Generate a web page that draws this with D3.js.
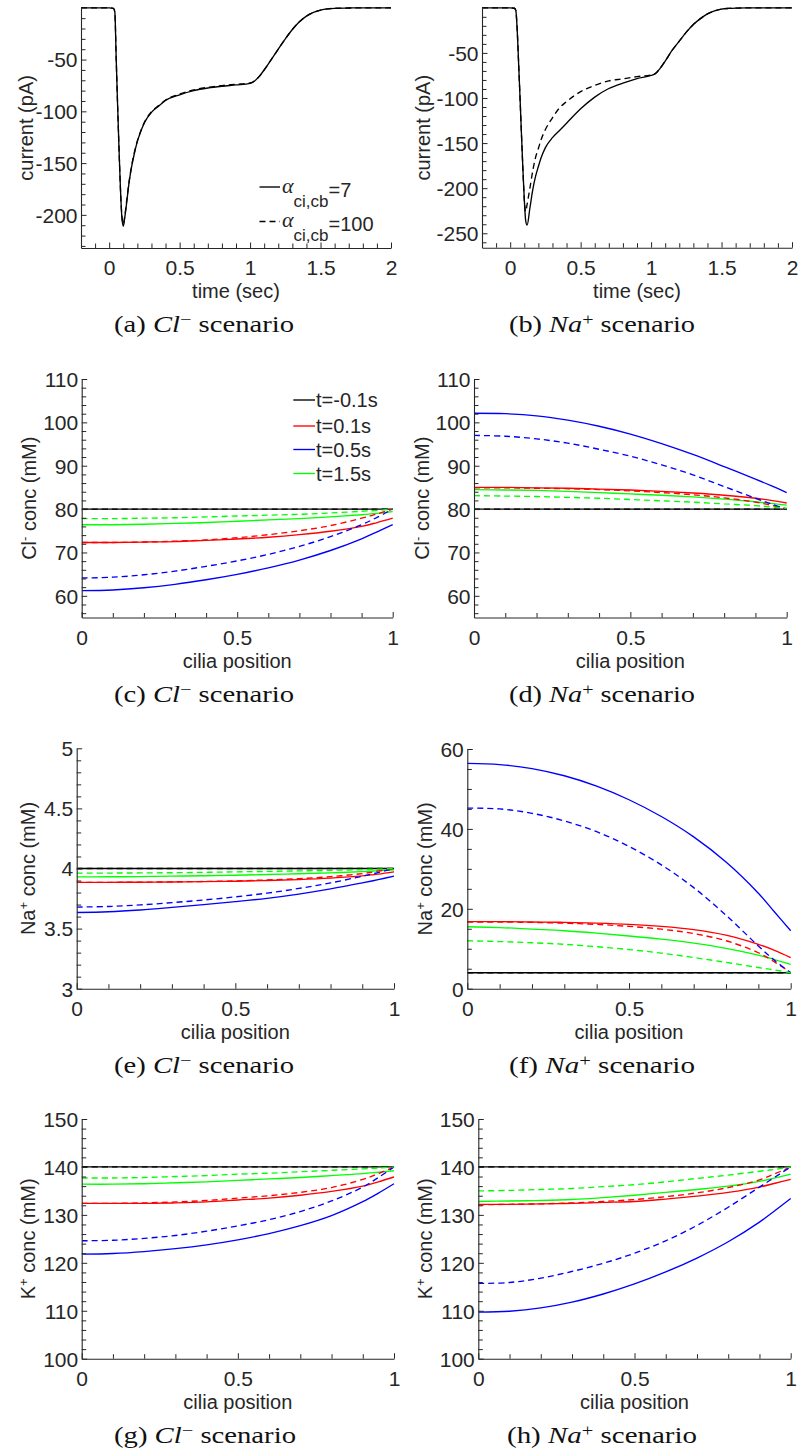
<!DOCTYPE html>
<html><head><meta charset="utf-8">
<script src="https://cdn.jsdelivr.net/npm/d3@7"></script>
<style>body{margin:0;background:#fff} svg{display:block}</style>
</head><body>
<svg id="fig" width="800" height="1455"></svg>
<script>
// ---------- DATA ----------
// time axis for current traces (sec)
const timeS = [-0.2,0.0,0.03,0.04,0.05,0.06,0.07,0.08,0.09,0.10,0.11,0.12,0.14,0.16,0.18,0.20,0.22,0.25,0.30,0.35,0.40,0.50,0.60,0.70,0.80,0.90,1.00,1.03,1.06,1.10,1.15,1.20,1.25,1.30,1.35,1.40,1.45,1.50,1.55,1.60,1.70,1.80,2.00];
// (a) Cl- scenario current (pA)
const curClA7   = [0,0,-0.5,-4,-50,-95,-137,-175,-202,-211,-203,-193,-170,-153,-140,-129,-121,-111,-101,-95,-89.5,-84,-80,-77.5,-75.8,-74.5,-73,-71,-67,-60,-50,-40,-30,-21,-13.5,-8,-4.5,-2.2,-1.0,-0.5,-0.2,0,0];
const curClA100 = [0,0,-0.5,-4,-50,-95,-137,-175,-201,-209,-202,-191,-169,-152,-139,-128.5,-120.5,-110.5,-100.5,-94.5,-89,-83.3,-79.3,-76.8,-75.1,-73.9,-72.6,-70.8,-67,-60,-50,-40,-30,-21,-13.5,-8,-4.5,-2.2,-1.0,-0.5,-0.2,0,0];
// (b) Na+ scenario current (pA)
const curNaA7   = [0,0,-0.5,-3,-25,-62,-100,-140,-178,-212,-236,-241,-222,-202,-187,-176,-166,-155,-144,-136,-128,-112,-99,-89.5,-83.5,-78.5,-75,-73,-68,-59,-47,-37,-27,-18.5,-12,-6.8,-3.5,-1.5,-0.7,-0.3,-0.1,0,0];
const curNaA100 = [0,0,-0.5,-3,-25,-62,-100,-140,-178,-212,-226,-218,-200,-181,-166,-156,-146,-135,-122,-111,-104,-93,-86,-81,-78.8,-76.3,-74.5,-73,-68,-59,-47,-37,-27,-18.5,-12,-6.8,-3.5,-1.5,-0.7,-0.3,-0.1,0,0];

// cilia position
const ciliaPos = [0,0.1,0.2,0.3,0.4,0.5,0.6,0.7,0.8,0.9,0.95,1];
const timeLabels = ["t=-0.1s","t=0.1s","t=0.5s","t=1.5s"];

// (c) Cl- conc, Cl- scenario (mM)  -- solid: alpha=7, dashed: alpha=100
const clCl_m01 = [80,80,80,80,80,80,80,80,80,80,80,80];
const clCl_01  = [72.3,72.3,72.4,72.5,72.8,73.1,73.5,74.1,74.9,76.0,76.9,77.9];
const clCl_05  = [61.2,61.35,61.85,62.65,63.7,64.95,66.45,68.25,70.45,73.15,74.75,76.4];
const clCl_15  = [76.4,76.4,76.5,76.7,76.9,77.2,77.5,77.8,78.2,78.7,79.0,79.4];
const clCl_m01d = [80,80,80,80,80,80,80,80,80,80,80,80];
const clCl_01d  = [72.3,72.3,72.4,72.6,72.9,73.4,74.1,75.0,76.2,77.9,78.9,80.0];
const clCl_05d  = [64.1,64.3,64.85,65.7,66.8,68.05,69.55,71.4,73.65,76.4,78.1,80.0];
const clCl_15d  = [77.8,77.8,77.9,78.0,78.2,78.4,78.6,78.8,79.1,79.5,79.7,80.0];

// (d) Cl- conc, Na+ scenario (mM)
const clNa_m01 = [80,80,80,80,80,80,80,80,80,80,80,80];
const clNa_01  = [85.0,85.0,84.9,84.8,84.6,84.4,84.1,83.7,83.2,82.5,82.0,81.4];
const clNa_05  = [102.1,102.0,101.5,100.5,99.1,97.3,95.1,92.6,89.8,86.9,85.4,83.8];
const clNa_15  = [84.5,84.4,84.3,84.1,83.8,83.5,83.2,82.8,82.3,81.7,81.3,80.9];
const clNa_m01d = [80,80,80,80,80,80,80,80,80,80,80,80];
const clNa_01d  = [84.9,84.9,84.8,84.7,84.5,84.2,83.8,83.3,82.6,81.6,80.9,80.0];
const clNa_05d  = [97.0,96.8,96.2,95.2,93.8,92.2,90.2,87.9,85.2,82.5,81.2,80.0];
const clNa_15d  = [83.1,83.0,82.9,82.7,82.5,82.2,81.9,81.6,81.2,80.8,80.5,80.2];

// (e) Na+ conc, Cl- scenario (mM)
const naCl_m01 = [4,4,4,4,4,4,4,4,4,4,4,4];
const naCl_01  = [3.885,3.885,3.886,3.888,3.891,3.894,3.900,3.908,3.920,3.938,3.953,3.972];
const naCl_05  = [3.634,3.640,3.655,3.676,3.699,3.724,3.752,3.787,3.830,3.880,3.907,3.936];
const naCl_15  = [3.930,3.931,3.933,3.936,3.940,3.944,3.950,3.956,3.964,3.974,3.982,3.990];
const naCl_m01d = [4,4,4,4,4,4,4,4,4,4,4,4];
const naCl_01d  = [3.885,3.885,3.886,3.889,3.892,3.897,3.905,3.915,3.932,3.958,3.978,4.0];
const naCl_05d  = [3.679,3.684,3.697,3.716,3.738,3.764,3.795,3.834,3.880,3.936,3.966,4.0];
const naCl_15d  = [3.961,3.962,3.963,3.965,3.968,3.972,3.976,3.980,3.985,3.991,3.995,4.0];

// (f) Na+ conc, Na+ scenario (mM)
const naNa_m01 = [4,4,4,4,4,4,4,4,4,4,4,4];
const naNa_01  = [16.8,16.8,16.7,16.6,16.4,16.1,15.6,14.8,13.4,11.1,9.6,7.8];
const naNa_05  = [56.4,56.1,55.1,53.3,50.7,47.3,43.1,38.0,31.7,23.9,19.2,14.5];
const naNa_15  = [15.5,15.3,14.9,14.5,13.9,13.2,12.4,11.4,10.1,8.4,7.3,6.1];
const naNa_m01d = [4,4,4,4,4,4,4,4,4,4,4,4];
const naNa_01d  = [16.7,16.7,16.6,16.4,16.1,15.6,14.9,13.8,12.0,9.0,6.7,4.0];
const naNa_05d  = [45.2,45.0,43.9,42.0,39.3,35.6,31.0,25.3,18.4,10.7,7.1,4.0];
const naNa_15d  = [12.0,11.8,11.5,11.1,10.5,9.8,8.9,7.8,6.6,5.3,4.7,4.0];

// (g) K+ conc, Cl- scenario (mM)
const kCl_m01 = [140,140,140,140,140,140,140,140,140,140,140,140];
const kCl_01  = [132.4,132.4,132.4,132.5,132.7,133.1,133.5,134.1,134.9,136.0,136.9,137.9];
const kCl_05  = [121.8,121.95,122.35,122.95,123.75,124.8,126.1,127.75,129.85,132.75,134.55,136.5];
const kCl_15  = [136.4,136.4,136.5,136.7,136.9,137.2,137.5,137.8,138.2,138.6,138.9,139.2];
const kCl_m01d = [140,140,140,140,140,140,140,140,140,140,140,140];
const kCl_01d  = [132.4,132.4,132.5,132.7,133.0,133.5,134.0,134.7,135.7,137.4,138.6,140.0];
const kCl_05d  = [124.6,124.7,125.1,125.7,126.6,127.7,129.0,130.7,132.9,135.8,137.8,140.0];
const kCl_15d  = [137.7,137.7,137.8,138.0,138.2,138.5,138.7,139.0,139.3,139.6,139.8,140.0];

// (h) K+ conc, Na+ scenario (mM)
const kNa_m01 = [140,140,140,140,140,140,140,140,140,140,140,140];
const kNa_01  = [132.2,132.2,132.3,132.4,132.6,132.8,133.3,133.9,134.7,135.8,136.6,137.4];
const kNa_05  = [109.7,109.9,110.6,111.8,113.5,115.6,118.1,121.0,124.4,128.5,130.9,133.4];
const kNa_15  = [132.8,132.9,133.0,133.2,133.6,134.1,134.7,135.3,136.0,137.0,137.7,138.5];
const kNa_m01d = [140,140,140,140,140,140,140,140,140,140,140,140];
const kNa_01d  = [132.1,132.2,132.3,132.5,132.8,133.2,133.8,134.6,135.7,137.3,138.6,140.0];
const kNa_05d  = [115.7,115.9,116.8,118.2,119.9,122.0,124.6,127.8,131.6,135.8,137.9,140.0];
const kNa_15d  = [135.0,135.1,135.3,135.5,135.9,136.3,136.9,137.6,138.3,139.1,139.5,140.0];

// tick values
const tTicks = [0,0.5,1,1.5,2];
const posTicks = [0,0.5,1];
const curClTicks = [-200,-150,-100,-50];
const curNaTicks = [-250,-200,-150,-100,-50];
const clTicks = [60,70,80,90,100,110];
const naClTicks = [3,3.5,4,4.5,5];
const naNaTicks = [0,20,40,60];
const kTicks = [100,110,120,130,140,150];

// ---------- DRAWING ----------
const svg = d3.select("#fig");
const AX = "#262626";
const SANS = "'Liberation Sans', Arial, Helvetica, sans-serif";
const SERIF = "'Liberation Serif', 'Times New Roman', serif";
const COLORS = ["#000000","#ff0000","#0000ff","#00ff00"];
const fmt = d => String(d);
const range = (a, b, s) => d3.range(Math.round((b - a) / s) + 1).map(i => +(a + i * s).toFixed(6));

function styleAxis(sel) {
  sel.select(".domain").attr("stroke", AX).attr("stroke-width", 1.1);
  sel.selectAll(".tick line").attr("stroke", AX).attr("stroke-width", 1);
  sel.selectAll(".tick text").attr("fill", AX).attr("font-size", 21).attr("font-family", SANS);
}

function ylabel(g, x, y, parts) {
  const t = g.append("text").attr("transform", `translate(${x},${y}) rotate(-90)`)
    .attr("text-anchor", "middle").attr("font-family", SANS).attr("font-size", 20).attr("fill", AX)
    .attr("dy", "0.35em");
  parts.forEach(p => {
    const ts = t.append("tspan").text(p.s);
    if (p.sup) ts.attr("font-size", 13).attr("baseline-shift", "55%");
  });
}

function caption(g, cx, y, letter, ion, sign, width) {
  const t = g.append("text").attr("x", cx).attr("y", y).attr("text-anchor", "middle")
    .attr("font-family", SERIF).attr("font-size", 24).attr("fill", "#111")
    .attr("textLength", width).attr("lengthAdjust", "spacingAndGlyphs");
  t.append("tspan").text(`(${letter}) `);
  t.append("tspan").attr("font-style", "italic").text(ion);
  t.append("tspan").attr("font-size", 17).attr("baseline-shift", "42%").text(sign);
  t.append("tspan").text(" scenario");
}

function panel(cfg) {
  const g = svg.append("g");
  const x = d3.scaleLinear().domain(cfg.xd).range([cfg.l, cfg.r]);
  const y = d3.scaleLinear().domain(cfg.yd).range([cfg.b, cfg.t]);
  const line = d3.line().x(d => x(d[0])).y(d => y(d[1])).curve(cfg.curve || d3.curveCatmullRom.alpha(0.5));
  const cid = "clip" + cfg.id;
  g.append("clipPath").attr("id", cid).append("rect")
    .attr("x", cfg.l).attr("y", cfg.t - 2).attr("width", cfg.r - cfg.l + 2).attr("height", cfg.b - cfg.t + 2);
  const plot = g.append("g").attr("clip-path", `url(#${cid})`);
  cfg.series.forEach(s => {
    plot.append("path").datum(cfg.xs.map((v, i) => [v, s.ys[i]]))
      .attr("d", line).attr("fill", "none").attr("stroke", s.color)
      .attr("stroke-width", 1.35).attr("stroke-dasharray", s.dash ? "6,4" : null);
  });
  // minor ticks
  const mx = g.append("g").attr("transform", `translate(0,${cfg.b})`)
    .call(d3.axisBottom(x).tickValues(cfg.xm).tickSizeInner(-4.5).tickSizeOuter(0).tickFormat(""));
  mx.select(".domain").remove(); mx.selectAll("line").attr("stroke", AX);
  const my = g.append("g").attr("transform", `translate(${cfg.l},0)`)
    .call(d3.axisLeft(y).tickValues(cfg.ym).tickSizeInner(-4.5).tickSizeOuter(0).tickFormat(""));
  my.select(".domain").remove(); my.selectAll("line").attr("stroke", AX);
  // major axes
  const xa = g.append("g").attr("transform", `translate(0,${cfg.b})`)
    .call(d3.axisBottom(x).tickValues(cfg.xt).tickSizeInner(-5.5).tickSizeOuter(0).tickPadding(12.5).tickFormat(fmt));
  styleAxis(xa);
  const ya = g.append("g").attr("transform", `translate(${cfg.l},0)`)
    .call(d3.axisLeft(y).tickValues(cfg.yt).tickSizeInner(-5.5).tickSizeOuter(0).tickPadding(3.5).tickFormat(fmt));
  styleAxis(ya);
  ya.selectAll(".tick text").attr("dy", "0.35em");
  // labels
  g.append("text").attr("x", (cfg.l + cfg.r) / 2).attr("y", cfg.b + 50).attr("text-anchor", "middle")
    .attr("font-family", SANS).attr("font-size", 20).attr("fill", AX).text(cfg.xlab);
  ylabel(g, cfg.ylx, (cfg.t + cfg.b) / 2, cfg.ylab);
  caption(g, cfg.capx, cfg.b + 84, cfg.letter, cfg.ion, cfg.sign, cfg.capw);
  return { g, x, y };
}

function concSeries(s, d) {
  const out = [];
  s.forEach((ys, i) => out.push({ ys, color: COLORS[i], dash: false }));
  d.forEach((ys, i) => out.push({ ys, color: COLORS[i], dash: true }));
  return out;
}

const tMinor = range(-0.1, 1.9, 0.1).filter(v => !tTicks.includes(v));
const pMinor = range(0.1, 0.9, 0.1).filter(v => !posTicks.includes(v));

// (a)
const pa = panel({
  id: "a", l: 81, r: 391, t: 7.8, b: 248, xd: [-0.2, 2], yd: [-232, 0], curve: d3.curveMonotoneX,
  xs: timeS, xt: tTicks, xm: tMinor, yt: curClTicks, ym: range(-230, -10, 10).filter(v => !curClTicks.includes(v)),
  series: [{ ys: curClA7, color: "#000", dash: false }, { ys: curClA100, color: "#000", dash: true }],
  xlab: "time (sec)", ylab: [{ s: "current (pA)" }], ylx: 26, capx: 204, capw: 180, letter: "a", ion: "Cl", sign: "\u2212"
});
// legend (a)
[{ y: 187, dash: false, v: "7" }, { y: 221.5, dash: true, v: "100" }].forEach(r => {
  pa.g.append("line").attr("x1", 259.5).attr("x2", 280).attr("y1", r.y).attr("y2", r.y)
    .attr("stroke", "#000").attr("stroke-width", 1.35).attr("stroke-dasharray", r.dash ? "6,4" : null);
  const t = pa.g.append("text").attr("x", 282).attr("y", r.y + 9.5).attr("font-family", SANS)
    .attr("font-size", 20).attr("fill", AX);
  t.append("tspan").attr("font-family", SERIF).attr("font-style", "italic").attr("font-size", 22)
    .attr("dy", -4).text("\u03b1");
  t.append("tspan").attr("font-size", 17).attr("dy", 14).text("ci,cb");
  t.append("tspan").attr("dy", -10).text("=" + r.v);
});

// (b)
panel({
  id: "b", l: 482, r: 792, t: 7.8, b: 247.7, xd: [-0.2, 2], yd: [-266, 0], curve: d3.curveMonotoneX,
  xs: timeS, xt: tTicks, xm: tMinor, yt: curNaTicks, ym: range(-260, -10, 10).filter(v => !curNaTicks.includes(v)),
  series: [{ ys: curNaA7, color: "#000", dash: false }, { ys: curNaA100, color: "#000", dash: true }],
  xlab: "time (sec)", ylab: [{ s: "current (pA)" }], ylx: 423, capx: 602, capw: 186, letter: "b", ion: "Na", sign: "+"
});

// (c)
const pc = panel({
  id: "c", l: 81.7, r: 392.7, t: 379, b: 617.5, xd: [0, 1], yd: [55, 110],
  xs: ciliaPos, xt: posTicks, xm: pMinor, yt: clTicks, ym: range(56, 108, 2).filter(v => !clTicks.includes(v)),
  series: concSeries([clCl_m01, clCl_01, clCl_05, clCl_15], [clCl_m01d, clCl_01d, clCl_05d, clCl_15d]),
  xlab: "cilia position", ylab: [{ s: "Cl" }, { s: "-", sup: true }, { s: " conc (mM)" }], ylx: 29, capx: 204, capw: 180,
  letter: "c", ion: "Cl", sign: "\u2212"
});
// legend (c)
timeLabels.forEach((lab, i) => {
  const yy = [400, 426, 449.5, 473.5][i];
  pc.g.append("line").attr("x1", 293.3).attr("x2", 315).attr("y1", yy).attr("y2", yy)
    .attr("stroke", COLORS[i]).attr("stroke-width", 1.35);
  pc.g.append("text").attr("x", 316).attr("y", yy + 7).attr("font-family", SANS).attr("font-size", 20)
    .attr("fill", AX).text(lab);
});

// (d)
panel({
  id: "d", l: 474, r: 786.7, t: 379, b: 617.5, xd: [0, 1], yd: [55, 110],
  xs: ciliaPos, xt: posTicks, xm: pMinor, yt: clTicks, ym: range(56, 108, 2).filter(v => !clTicks.includes(v)),
  series: concSeries([clNa_m01, clNa_01, clNa_05, clNa_15], [clNa_m01d, clNa_01d, clNa_05d, clNa_15d]),
  xlab: "cilia position", ylab: [{ s: "Cl" }, { s: "-", sup: true }, { s: " conc (mM)" }], ylx: 421.7, capx: 602, capw: 186,
  letter: "d", ion: "Na", sign: "+"
});

// (e)
panel({
  id: "e", l: 76.7, r: 394, t: 748.3, b: 988.7, xd: [0, 1], yd: [3, 5],
  xs: ciliaPos, xt: posTicks, xm: pMinor, yt: naClTicks, ym: range(3.1, 4.9, 0.1).filter(v => !naClTicks.includes(v)),
  series: concSeries([naCl_m01, naCl_01, naCl_05, naCl_15], [naCl_m01d, naCl_01d, naCl_05d, naCl_15d]),
  xlab: "cilia position", ylab: [{ s: "Na" }, { s: "+", sup: true }, { s: " conc (mM)" }], ylx: 28.3, capx: 204, capw: 180,
  letter: "e", ion: "Cl", sign: "\u2212"
});

// (f)
panel({
  id: "f", l: 467.3, r: 790.7, t: 749, b: 988.7, xd: [0, 1], yd: [0, 60],
  xs: ciliaPos, xt: posTicks, xm: pMinor, yt: naNaTicks, ym: range(5, 55, 5).filter(v => !naNaTicks.includes(v)),
  series: concSeries([naNa_m01, naNa_01, naNa_05, naNa_15], [naNa_m01d, naNa_01d, naNa_05d, naNa_15d]),
  xlab: "cilia position", ylab: [{ s: "Na" }, { s: "+", sup: true }, { s: " conc (mM)" }], ylx: 425, capx: 602, capw: 186,
  letter: "f", ion: "Na", sign: "+"
});

// (g)
panel({
  id: "g", l: 81.7, r: 394, t: 1119, b: 1358.7, xd: [0, 1], yd: [100, 150],
  xs: ciliaPos, xt: posTicks, xm: pMinor, yt: kTicks, ym: range(102, 148, 2).filter(v => !kTicks.includes(v)),
  series: concSeries([kCl_m01, kCl_01, kCl_05, kCl_15], [kCl_m01d, kCl_01d, kCl_05d, kCl_15d]),
  xlab: "cilia position", ylab: [{ s: "K" }, { s: "+", sup: true }, { s: " conc (mM)" }], ylx: 28, capx: 205, capw: 182,
  letter: "g", ion: "Cl", sign: "\u2212"
});

// (h)
panel({
  id: "h", l: 478.3, r: 790.7, t: 1119, b: 1358.7, xd: [0, 1], yd: [100, 150],
  xs: ciliaPos, xt: posTicks, xm: pMinor, yt: kTicks, ym: range(102, 148, 2).filter(v => !kTicks.includes(v)),
  series: concSeries([kNa_m01, kNa_01, kNa_05, kNa_15], [kNa_m01d, kNa_01d, kNa_05d, kNa_15d]),
  xlab: "cilia position", ylab: [{ s: "K" }, { s: "+", sup: true }, { s: " conc (mM)" }], ylx: 425, capx: 602, capw: 190,
  letter: "h", ion: "Na", sign: "+"
});
</script>
</body></html>
